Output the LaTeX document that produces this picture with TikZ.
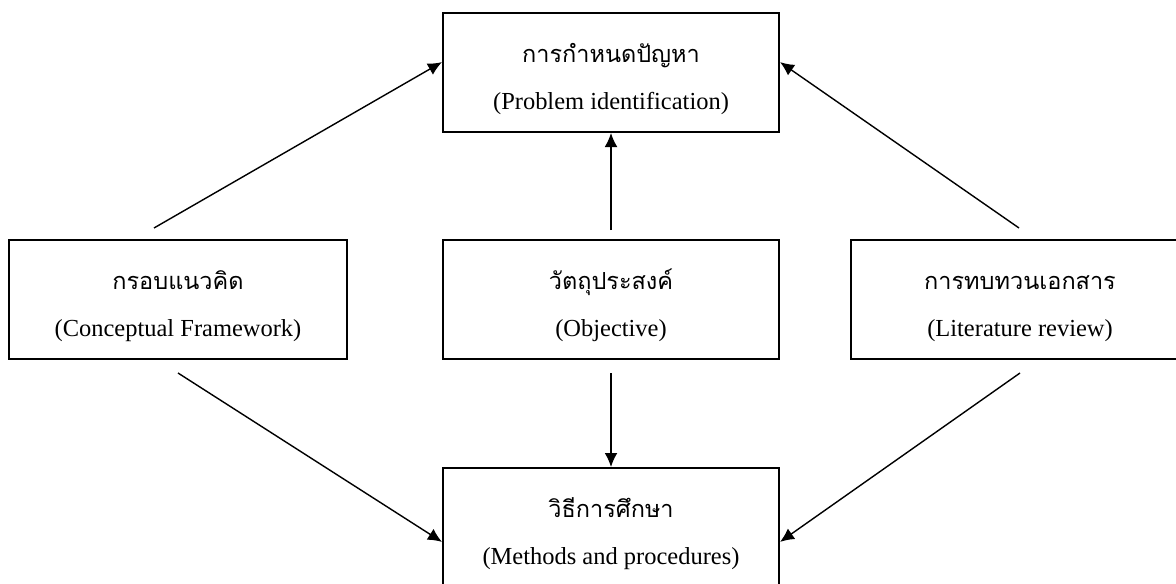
\documentclass[tikz,border=0pt]{standalone}
\usepackage{fontspec}
\setmainfont{Liberation Serif}
\newfontfamily\thaifont[Script=Thai, Scale=0.96]{Loma}
\usetikzlibrary{arrows.meta}

\begin{document}
\begin{tikzpicture}[x=0.025cm, y=-0.025cm,
    box/.style={draw, line width=1.4pt, minimum width=8.4cm, minimum height=2.975cm,
        align=center, inner sep=0pt, font=\fontsize{17.4}{33.3}\selectfont},
    flow/.style={-{Latex[length=0.35cm, width=0.32cm]}, line width=1pt}]

    % two lines of a box: Thai above, English below
    \def\boxtext#1#2{\rule{0pt}{29pt}{\thaifont #1}\\#2\strut}

    % fixed frame of the picture
    \useasboundingbox (0,0) rectangle (1176,584);

    % ==========================================
    % BOXES
    % ==========================================
    \node[box] (problem) at (611,72.5) {\boxtext{การกำหนดปัญหา}{(Problem identification)}};

    \node[box, minimum width=8.45cm] (frame) at (178,299.5) {\boxtext{กรอบแนวคิด}{(Conceptual Framework)}};
    \node[box] (objective) at (611,299.5) {\boxtext{วัตถุประสงค์}{(Objective)}};
    \node[box, minimum width=8.45cm] (review) at (1020,299.5) {\boxtext{การทบทวนเอกสาร}{(Literature review)}};

    \node[box] (method) at (611,527.5) {\boxtext{วิธีการศึกษา}{(Methods and procedures)}};

    % ==========================================
    % ARROWS: loose ends above and below the middle row
    % ==========================================
    \coordinate (frameUp) at (154,228);
    \coordinate (objectiveUp) at (611,230);
    \coordinate (reviewUp) at (1019,228);
    \coordinate (frameDown) at (178,373);
    \coordinate (objectiveDown) at (611,373);
    \coordinate (reviewDown) at (1020,373);

    % up to the problem
    \draw[flow] (frameUp) -- ([yshift=0.26cm]problem.west);
    \draw[flow] (objectiveUp) -- (problem.south);
    \draw[flow] (reviewUp) -- ([yshift=0.26cm]problem.east);

    % down to the methods
    \draw[flow] (frameDown) -- ([yshift=-0.36cm]method.west);
    \draw[flow] (objectiveDown) -- (method.north);
    \draw[flow] (reviewDown) -- ([yshift=-0.36cm]method.east);

\end{tikzpicture}
\end{document}
